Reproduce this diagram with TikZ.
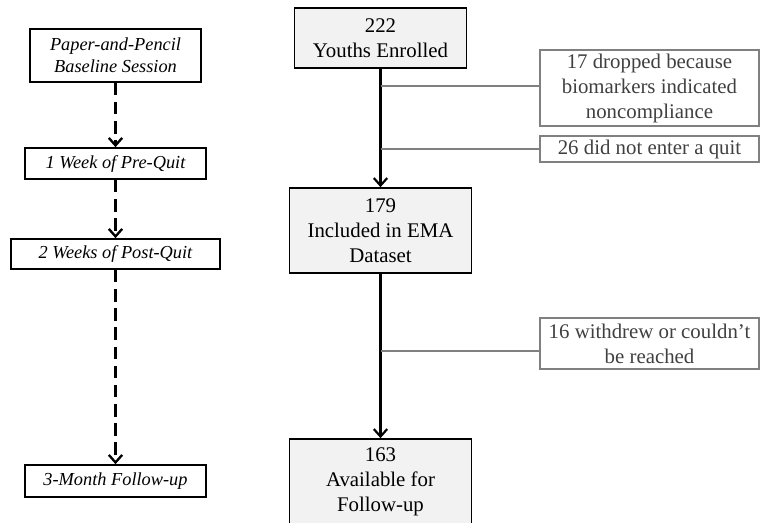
\documentclass[tikz,border=0pt]{standalone}
\usepackage{fontspec}
\setmainfont{Liberation Serif}
\usetikzlibrary{arrows.meta}
\definecolor{boxfill}{HTML}{F2F2F2}
\definecolor{sidegray}{HTML}{808080}
\definecolor{sidetext}{HTML}{404040}
\tikzset{
  phase/.style={draw=black, line width=1pt, fill=white, inner sep=0pt, align=center,
    font=\fontsize{11}{13}\selectfont\itshape},
  stage/.style={draw=black, line width=1pt, fill=boxfill, inner sep=0pt, align=center,
    minimum width=109.2pt, font=\fontsize{12.5}{15}\selectfont},
  lost/.style={draw=sidegray, line width=1pt, fill=white, inner sep=0pt, align=center,
    minimum width=131.4pt, text=sidetext, font=\fontsize{12.5}{15}\selectfont},
  flow/.style={line width=1.3pt, -{Straight Barb[length=4.5pt,width=8pt]}},
  timeflow/.style={line width=1.4pt, dash pattern=on 7.5pt off 4pt, -{Straight Barb[length=4.5pt,width=8pt]}},
  branch/.style={draw=sidegray, line width=1pt}
}
\begin{document}
\begin{tikzpicture}[x=0.6pt, y=-0.6pt]
    \useasboundingbox (0,0) rectangle (760,523);
    % timeline
    \node[phase, minimum width=102.6pt, minimum height=31.8pt] (base) at (115.5,55.5) {Paper-and-Pencil\\Baseline Session};
    \node[phase, minimum width=108.6pt, minimum height=18.6pt] (pre) at (115.5,163.5) {1 Week of Pre-Quit};
    \node[phase, minimum width=125.4pt, minimum height=18pt] (post) at (115.5,254) {2 Weeks of Post-Quit};
    \node[phase, minimum width=108.6pt, minimum height=19.2pt] (follow) at (115.5,481) {3-Month Follow-up};
    \draw[timeflow] (base) -- (pre);
    \draw[timeflow] (pre) -- (post);
    \draw[timeflow] (post) -- (follow);
    % participants
    \node[stage, minimum width=103.2pt, minimum height=36pt] (enrolled) at (380.5,38) {222\\Youths Enrolled};
    \node[stage, minimum height=51pt] (included) at (380.5,230.5) {179\\Included in EMA\\Dataset};
    \node[stage, minimum height=51pt] (available) at (380.5,481.5) {163\\Available for\\Follow-up};
    \draw[flow] (enrolled) -- (included);
    \draw[flow] (included) -- (available);
    % exclusions
    \node[lost, minimum height=45.6pt] (biomark) at (649.5,88) {17 dropped because\\biomarkers indicated\\noncompliance};
    \node[lost, minimum height=15.6pt] (noquit) at (649.5,149) {26 did not enter a quit};
    \node[lost, minimum height=30.6pt] (withdrew) at (649.5,343.5) {16 withdrew or couldn’t\\be reached};
    \coordinate (j1) at (380.5,86);
    \coordinate (j2) at (380.5,149);
    \coordinate (j3) at (380.5,351);
    \draw[branch] (j1) -- (j1 -| biomark.west);
    \draw[branch] (j2) -- (noquit.west);
    \draw[branch] (j3) -- (j3 -| withdrew.west);
\end{tikzpicture}
\end{document}
